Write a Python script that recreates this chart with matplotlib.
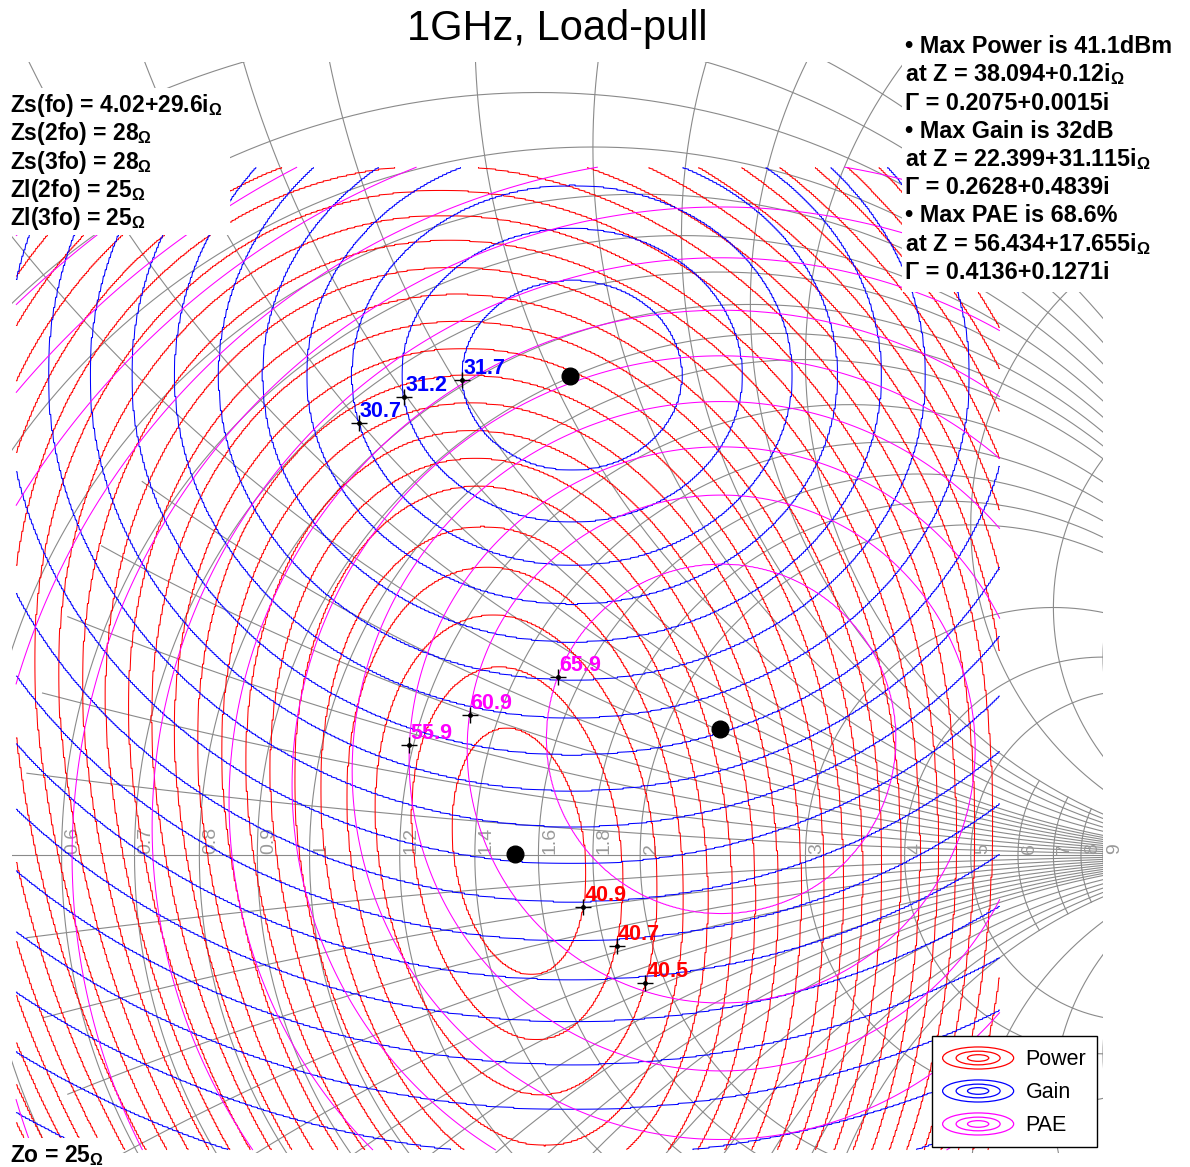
import numpy as np
import matplotlib.pyplot as plt
from matplotlib.lines import Line2D
from matplotlib.patches import Ellipse, Rectangle
from matplotlib.legend_handler import HandlerBase

plt.rcParams['font.family'] = ['Liberation Sans', 'DejaVu Sans']
plt.rcParams['mathtext.fontset'] = 'custom'
plt.rcParams['mathtext.rm'] = 'Liberation Sans:bold'
plt.rcParams['mathtext.it'] = 'Liberation Sans:bold'
plt.rcParams['mathtext.bf'] = 'Liberation Sans:bold'

# ---- smith chart grid (normalised values) ----
grid_r = [0.1, 0.2, 0.3, 0.4, 0.5, 0.6, 0.7, 0.8, 0.9, 1.0,
          1.2, 1.4, 1.6, 1.8, 2.0, 3, 4, 5, 6, 7, 8, 9, 10, 20]
grid_r_xmax = [5] * 15 + [5, 5, 5, 2, 2, 2, 2, 5, 10]
grid_x = [0.1, 0.2, 0.3, 0.4, 0.5, 0.6, 0.7, 0.8, 0.9, 1.0,
          1.2, 1.4, 1.6, 1.8, 2.0, 3, 4, 5, 10]
grid_x_rlo = [0.55] * 5 + [0] * 14
grid_x_rhi = [10] * 15 + [10, 10, 10, 20]
axis_labels = ['0.6', '0.7', '0.8', '0.9', '1', '1.2', '1.4', '1.6', '1.8', '2',
               '3', '4', '5', '6', '7', '8', '9']

# ---- load-pull data (reflection coefficient plane) ----
data_x = [-0.296, 0.696]
data_y = [-0.297, 0.694]

# output power: ring k lies 0.2*k dB below the 41.1 dBm peak.
# ring centre, half width and upper / lower half heights read at a few rings
pow_max, pow_step = 41.1, 0.2
pow_k = [0, 1, 2, 3, 4, 6, 10, 15, 20, 30]
pow_cx = [0.2112, 0.2112, 0.2092, 0.2082, 0.2072, 0.2052, 0.2022, 0.1921, 0.1770, 0.1467]
pow_cy = [0.0054, 0.0054, 0.0075, 0.0095, 0.0115, 0.0206, 0.0559, 0.1113, 0.1668, 0.2777]
pow_a = [0, 0.0665, 0.1049, 0.1401, 0.1674, 0.2178, 0.3126, 0.4184, 0.5243, 0.7058]
pow_bup = [0, 0.1230, 0.1825, 0.2329, 0.2793, 0.3519, 0.4285, 0.5092, 0.5798, 0.7360]
pow_bdn = [0, 0.1260, 0.1936, 0.2511, 0.3045, 0.3882, 0.5344, 0.6806, 0.8167, 1.0788]
pow_shear = 0.10
pow_levels = [round(40.9 - 0.2 * i, 1) for i in range(29)]

# gain: peak and radius of each 0.5 dB ring
gain_peak = [0.2647, 0.4844]
gain_aspect = 1.16
gain_radii = [0, 0.0958, 0.1482, 0.1916, 0.2309, 0.2692, 0.3075, 0.3458, 0.3831,
              0.4194, 0.4557, 0.4930, 0.5314, 0.5707, 0.6100, 0.6523, 0.6957,
              0.7411, 0.7885, 0.8369, 0.8873, 0.9397]
gain_vals = [32.04, 31.7, 31.2, 30.7, 30.2, 29.7, 29.2, 28.7, 28.2, 27.7, 27.2,
             26.7, 26.2, 25.7, 25.2, 24.7, 24.2, 23.7, 23.2, 22.7, 22.2, 21.7]

# PAE: peak, radius of each 5 % ring and downward sag of the outer rings
pae_peak = [0.4150, 0.1268]
pae_sag = 0.2975
pae_radii = [0, 0.1764, 0.2561, 0.3146, 0.3720, 0.4326, 0.4961, 0.5737, 0.6544,
             0.7411, 0.8318, 0.9276, 1.0284, 1.1293, 1.2301]
pae_vals = [68.6, 65.9, 60.9, 55.9, 50.9, 45.9, 40.9, 35.9, 30.9, 25.9, 20.9,
            15.9, 10.9, 5.9, 0.9]

# optimum points and labelled contour points
max_pts = [(0.2075, 0.0015), (0.2628, 0.4839), (0.4136, 0.1271)]
gain_marks = [(31.7, 0.1628, 0.4793), (31.2, 0.1044, 0.4643), (30.7, 0.0590, 0.4381)]
pae_marks = [(65.9, 0.2576, 0.1769), (60.9, 0.1598, 0.1426), (55.9, 0.1013, 0.1113)]
pow_marks = [(40.9, 0.2788, -0.0520), (40.7, 0.3121, -0.0913), (40.5, 0.3373, -0.1286)]

left_lines = ['Zs(fo) = 4.02+29.6i${}_\\Omega$', 'Zs(2fo) = 28${}_\\Omega$',
              'Zs(3fo) = 28${}_\\Omega$', 'Zl(2fo) = 25${}_\\Omega$',
              'Zl(3fo) = 25${}_\\Omega$']
right_lines = ['\u2022 Max Power is 41.1dBm', 'at Z = 38.094+0.12i${}_\\Omega$',
               '\u0393 = 0.2075+0.0015i', '\u2022 Max Gain is 32dB',
               'at Z = 22.399+31.115i${}_\\Omega$', '\u0393 = 0.2628+0.4839i',
               '\u2022 Max PAE is 68.6%', 'at Z = 56.434+17.655i${}_\\Omega$',
               '\u0393 = 0.4136+0.1271i']

RED, BLUE, MAG, GRID = '#ff0000', '#0000ff', '#ff00ff', '#8a8a8a'
W, H = 1190, 1167

fig = plt.figure(figsize=(W / 100, H / 100), dpi=100)
ax = fig.add_axes([12 / W, 14 / H, 1091 / W, 1091 / H])
ax.set_xlim(-0.3, 0.8)
ax.set_ylim(-0.3, 0.8)
ax.axis('off')


def to_gamma(z):
    return (z - 1) / (z + 1)


# grid
for r, xm in zip(grid_r, grid_r_xmax):
    s = np.linspace(-1, 1, 1201)
    xs = np.sinh(s * np.arcsinh(4 * xm)) / 4
    g = to_gamma(r + 1j * xs)
    ax.plot(g.real, g.imag, color=GRID, lw=0.8, zorder=1)
for x, rlo, rhi in zip(grid_x, grid_x_rlo, grid_x_rhi):
    rs = np.geomspace(max(rlo, 1e-3), rhi, 800)
    if rlo == 0:
        rs = np.r_[0, rs]
    for sg in (1, -1):
        g = to_gamma(rs + 1j * sg * x)
        ax.plot(g.real, g.imag, color=GRID, lw=0.8, zorder=1)
ax.plot([-1, 1], [0, 0], color=GRID, lw=0.8, zorder=1)
for lab in axis_labels:
    r = float(lab)
    ax.annotate(lab, xy=((r - 1) / (r + 1), 0), xytext=(3, 1), textcoords='offset pixels',
                rotation=90, rotation_mode='anchor', ha='left', va='top',
                fontsize=14, color='#9a9a9a', zorder=1.5, annotation_clip=False)

# measured grid is coarse (about 2 px per cell), contours drawn on a fine one
nc, rep = 496, 2
CX, CY = np.meshgrid(np.linspace(data_x[0], data_x[1], nc),
                     np.linspace(data_y[0], data_y[1], nc))
X, Y = np.meshgrid(np.linspace(data_x[0], data_x[1], nc * rep),
                   np.linspace(data_y[0], data_y[1], nc * rep))


def blocks(F):
    return np.repeat(np.repeat(F, rep, axis=0), rep, axis=1)


def power_ring_index(X, Y):
    # find, for every point, the ring it sits on (bisection over the ring index)
    lo = np.zeros_like(X)
    hi = np.full_like(X, float(pow_k[-1]))
    for _ in range(30):
        k = 0.5 * (lo + hi)
        cxk = np.interp(k, pow_k, pow_cx)
        cyk = np.interp(k, pow_k, pow_cy)
        ak = np.maximum(np.interp(k, pow_k, pow_a), 1e-6)
        bu = np.maximum(np.interp(k, pow_k, pow_bup), 1e-6)
        bd = np.maximum(np.interp(k, pow_k, pow_bdn), 1e-6)
        yr = Y - cyk
        xr = (X - cxk + pow_shear * yr) / ak
        yr = np.where(yr >= 0, yr / bu, yr / bd)
        inside = xr ** 2 + yr ** 2 <= 1
        hi = np.where(inside, k, hi)
        lo = np.where(inside, lo, k)
    return hi


P = blocks(pow_max - pow_step * power_ring_index(CX, CY))

dx, dy = CX - gain_peak[0], CY - gain_peak[1]
G = blocks(np.interp(np.hypot(dx / gain_aspect, dy), gain_radii, gain_vals))

dx, dy = X - pae_peak[0], Y - pae_peak[1]
R = np.hypot(dx, dy)
for _ in range(50):
    R = np.hypot(dx, dy + pae_sag * R ** 2)
E = np.interp(R, pae_radii, pae_vals)

cs_p = ax.contour(X, Y, P, levels=sorted(pow_levels), colors=RED, linewidths=0.75, zorder=2)
cs_g = ax.contour(X, Y, G, levels=sorted(gain_vals[1:]), colors=BLUE, linewidths=0.75,
                  zorder=2.1)
cs_e = ax.contour(X, Y, E, levels=sorted(pae_vals[1:]), colors=MAG, linewidths=0.75,
                  zorder=2.2)


def put_label(cs, lev, px, py, col):
    i = int(np.argmin(np.abs(np.asarray(cs.levels) - lev)))
    vv = cs.get_paths()[i].vertices
    k = int(np.argmin(np.hypot(vv[:, 0] - px, vv[:, 1] - py)))
    mx, my = vv[k]
    ax.plot(mx, my, '+', color='k', ms=11, mew=1, zorder=6)
    ax.plot(mx, my, '.', color='k', ms=5, zorder=6)
    ax.annotate('%.1f' % lev, xy=(mx, my), xytext=(1, 6), textcoords='offset pixels',
                ha='left', va='baseline', fontsize=15.5, fontweight='bold', color=col,
                zorder=7)


for lev, px, py in gain_marks:
    put_label(cs_g, lev, px, py, BLUE)
for lev, px, py in pae_marks:
    put_label(cs_e, lev, px, py, MAG)
for lev, px, py in pow_marks:
    put_label(cs_p, lev, px, py, RED)

for px, py in max_pts:
    ax.plot(px, py, 'o', color='k', ms=12, zorder=6)


# legend with ring icons
class RingHandler(HandlerBase):
    def create_artists(self, legend, orig_handle, xdescent, ydescent, width, height,
                       fontsize, trans):
        col = orig_handle.get_color()
        cx0, cy0 = width / 2 - xdescent, height / 2 - ydescent
        return [Ellipse((cx0, cy0), width * f, height * f, fill=False, edgecolor=col,
                        lw=0.9, transform=trans) for f in (1.0, 0.62, 0.3)]


handles = [Line2D([], [], color=RED), Line2D([], [], color=BLUE), Line2D([], [], color=MAG)]
leg = ax.legend(handles, ['Power', 'Gain', 'PAE'], handler_map={Line2D: RingHandler()},
                loc='lower right', bbox_to_anchor=(1097 / W, 20 / H),
                bbox_transform=fig.transFigure, fontsize=15.5, handlelength=3.3,
                handleheight=1.2, handletextpad=0.55, borderpad=0.5, labelspacing=0.45,
                borderaxespad=0, fancybox=False, framealpha=1, edgecolor='k')
leg.get_frame().set_linewidth(1.0)
leg.set_zorder(10)

# white text boxes
for x0, y0, x1, y1 in [(0, 88, 230, 235), (902, 30, W, 292), (0, 1138, 112, H)]:
    fig.add_artist(Rectangle((x0 / W, 1 - y1 / H), (x1 - x0) / W, (y1 - y0) / H,
                             transform=fig.transFigure, fc='white', ec='none', zorder=3))

fig.text(557 / W, 1 - 40 / H, '1GHz, Load-pull', ha='center', va='baseline',
         fontsize=30, zorder=4)
for i, t in enumerate(left_lines):
    fig.text(10 / W, 1 - (112 + 28.3 * i) / H, t, ha='left', va='baseline',
             fontsize=16.5, fontweight='bold', zorder=4)
for i, t in enumerate(right_lines):
    fig.text(905 / W, 1 - (53 + 28.25 * i) / H, t, ha='left', va='baseline',
             fontsize=16.8, fontweight='bold', zorder=4)
fig.text(10 / W, 1 - 1162 / H, 'Zo = 25${}_\\Omega$', ha='left', va='baseline',
         fontsize=16.5, fontweight='bold', zorder=4)

fig.savefig('out.png', dpi=100)
